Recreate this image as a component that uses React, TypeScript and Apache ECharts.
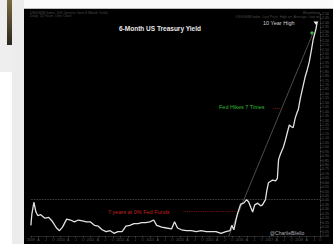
import React, { useEffect, useRef } from "react";
import * as echarts from "echarts";

// decimal years
const dates = [
  2009.0, 2009.03, 2009.1, 2009.17, 2009.23, 2009.33, 2009.47, 2009.6, 2009.73, 2009.86,
  2009.96, 2010.06, 2010.2, 2010.33, 2010.46, 2010.59, 2010.73, 2010.86, 2010.99, 2011.13,
  2011.26, 2011.39, 2011.52, 2011.66, 2011.79, 2011.92, 2012.06, 2012.19, 2012.32, 2012.46,
  2012.59, 2012.72, 2012.85, 2012.99, 2013.12, 2013.22, 2013.39, 2013.55, 2013.72, 2013.82,
  2013.92, 2014.05, 2014.22, 2014.38, 2014.55, 2014.71, 2014.88, 2015.05, 2015.21, 2015.38,
  2015.54, 2015.68, 2015.74, 2015.81, 2015.88, 2015.94, 2016.04, 2016.14, 2016.24, 2016.31,
  2016.38, 2016.44, 2016.51, 2016.61, 2016.71, 2016.77, 2016.87, 2016.91, 2016.97, 2017.11,
  2017.21, 2017.27, 2017.31, 2017.37, 2017.47, 2017.54, 2017.6, 2017.67, 2017.74, 2017.8,
  2017.87, 2017.94, 2017.97, 2018.04, 2018.1, 2018.14, 2018.2, 2018.27, 2018.34, 2018.41,
  2018.47, 2018.54, 2018.57, 2018.6,
];
// 6-month yield, %
const yields = [
  0.12, 0.24, 0.38, 0.27, 0.23, 0.24, 0.2, 0.21, 0.16, 0.09,
  0.06, 0.1, 0.19, 0.18, 0.16, 0.18, 0.17, 0.16, 0.16, 0.12,
  0.11, 0.07, 0.05, 0.06, 0.03, 0.05, 0.05, 0.11, 0.12, 0.14,
  0.14, 0.15, 0.15, 0.16, 0.18, 0.12, 0.1, 0.09, 0.08, 0.16,
  0.09, 0.07, 0.06, 0.06, 0.05, 0.06, 0.05, 0.05, 0.05, 0.03,
  0.05, 0.06, 0.12, 0.07, 0.18, 0.26, 0.36, 0.37, 0.41, 0.38,
  0.32, 0.27, 0.35, 0.37, 0.34, 0.35, 0.41, 0.5, 0.6, 0.63,
  0.62, 0.65, 0.86, 0.92, 1.0, 1.08, 1.16, 1.25, 1.23, 1.22,
  1.33, 1.4, 1.42, 1.55, 1.64, 1.7, 1.79, 1.87, 1.96, 2.09,
  2.21, 2.3, 2.34, 2.4,
];
const trendDates = [2015.64, 2018.47];
const trendValues = [0, 2.29];
const priorHigh = 0.405;
const zeroRateLevel = 0.28;
const zeroRateSpan = [2014.12, 2015.88];
const hikeLevel = 1.44;
const hikeSpan = [2017.14, 2017.44];
const quarterLetters = ["J", "A", "J", "O"];

const titleText = "6-Month US Treasury Yield";
const highText = "10 Year High";
const hikesText = "Fed Hikes 7 Times";
const zeroText = "7 years at 0% Fed Funds";
const creditText = "@CharlieBilello";
const headerLeft1 = "USGG6M Index  (US Generic Govt 6 Month Yield)";
const headerLeft2 = "Daily  10 Years  Line Chart";
const headerRight1 = "USGG6M Index  Last Price  High on  Average  Low on";
const headerRight2 = "Bloomberg";

export default function App() {
  const ref = useRef<HTMLDivElement>(null);
  useEffect(() => {
    if (!ref.current) return;
    const chart = echarts.init(ref.current, undefined, { renderer: "svg" });
    const font = "Liberation Sans, Arial, sans-serif";
    chart.setOption({
      animation: false,
      backgroundColor: "#000",
      grid: { left: 4, right: 13, top: 5, bottom: 8 },
      xAxis: {
        type: "value",
        min: 2009,
        max: 2018.7,
        interval: 0.25,
        axisLine: { show: true, lineStyle: { color: "#3a3a3a", width: 0.6 } },
        axisTick: { show: true, length: 1.5, lineStyle: { color: "#444" } },
        splitLine: { show: false },
        axisLabel: {
          color: "#555",
          fontSize: 3.5,
          margin: 2,
          fontFamily: font,
          formatter: (v: number) => {
            const y = Math.floor(v + 1e-6);
            const f = v - y;
            if (f < 0.01) return String(y);
            return quarterLetters[Math.round(f * 4) % 4];
          },
        },
      },
      yAxis: {
        type: "value",
        position: "right",
        min: 0,
        max: 2.5,
        interval: 0.05,
        axisLine: { show: true, lineStyle: { color: "#3a3a3a", width: 0.6 } },
        axisTick: { show: true, length: 1.5, lineStyle: { color: "#444" } },
        splitLine: { show: false },
        axisLabel: {
          color: "#5c5c5c",
          fontSize: 3.6,
          margin: 2,
          fontFamily: font,
          formatter: (v: number) => v.toFixed(2),
        },
      },
      series: [
        {
          type: "line",
          data: trendDates.map((d, i) => [d, trendValues[i]]),
          showSymbol: false,
          lineStyle: { color: "#5e5e5e", width: 0.8 },
          z: 2,
        },
        {
          type: "line",
          data: dates.map((d, i) => [d, yields[i]]),
          showSymbol: false,
          lineStyle: { color: "#e2e2e2", width: 1.3 },
          z: 3,
          markLine: {
            silent: true,
            symbol: "none",
            label: { show: false },
            data: [
              { yAxis: priorHigh, lineStyle: { color: "#5e5e5e", type: "dotted", width: 0.8 } },
              [
                { coord: [zeroRateSpan[0], zeroRateLevel], lineStyle: { color: "#8a1616", type: "dotted", width: 0.9 } },
                { coord: [zeroRateSpan[1], zeroRateLevel] },
              ],
              [
                { coord: [hikeSpan[0], hikeLevel], lineStyle: { color: "#8a1616", type: "dotted", width: 0.9 } },
                { coord: [hikeSpan[1], hikeLevel] },
              ],
            ],
          },
        },
      ],
      graphic: [
        { type: "text", left: 6, top: 1.5, style: { text: headerLeft1, fill: "#4a4a4a", fontSize: 3.5, fontFamily: font } },
        { type: "text", left: 6, top: 5, style: { text: headerLeft2, fill: "#4a4a4a", fontSize: 3.5, fontFamily: font } },
        { type: "text", right: 13, top: 5.5, style: { text: headerRight1, fill: "#4a4a4a", fontSize: 3.5, fontFamily: font } },
        { type: "text", right: 13, top: 2, style: { text: headerRight2, fill: "#4a4a4a", fontSize: 3.5, fontFamily: font } },
        {
          type: "text",
          x: 136,
          y: 19,
          style: { text: titleText, fill: "#e8e8e8", fontSize: 6.5, fontWeight: "bold", fontFamily: font, align: "center", verticalAlign: "middle" },
        },
        {
          type: "text",
          x: 239,
          y: 14,
          style: { text: highText, fill: "#cfcfcf", fontSize: 5.5, fontFamily: font, verticalAlign: "middle" },
        },
        { type: "polygon", shape: { points: [[289.5, 12.5], [294.5, 12.5], [292, 16]] }, style: { fill: "#eee" } },
        { type: "circle", shape: { cx: 288, cy: 24, r: 1.6 }, style: { fill: "#3ec43e" } },
        {
          type: "text",
          x: 195,
          y: 98,
          style: { text: hikesText, fill: "#35b835", fontSize: 5.5, fontFamily: font, verticalAlign: "middle" },
        },
        {
          type: "text",
          x: 84,
          y: 203,
          style: { text: zeroText, fill: "#c02222", fontSize: 5.5, fontFamily: font, verticalAlign: "middle" },
        },
        {
          type: "text",
          x: 246,
          y: 224,
          style: { text: creditText, fill: "#b0b0b0", fontSize: 5, fontFamily: font, verticalAlign: "middle" },
        },
      ],
    });
    return () => chart.dispose();
  }, []);

  return (
    <div style={{ position: "fixed", left: 0, top: 0, width: 333, height: 244, background: "#fff", overflow: "hidden" }}>
      <div style={{ position: "absolute", left: 0, top: 0, width: 12, height: 72, background: "#eeeeee" }} />
      <div style={{ position: "absolute", left: 7, top: 0, width: 5, height: 45, background: "linear-gradient(#7a6a40, #2a2620)" }} />
      <div style={{ position: "absolute", left: 12, top: 0, width: 12, height: 244, background: "#ececec" }} />
      <div style={{ position: "absolute", left: 24, top: 0, width: 309, height: 8, background: "#fafafa", borderBottom: "1px solid #bbb" }} />
      <div ref={ref} style={{ position: "absolute", left: 24, top: 9, width: 309, height: 235 }} />
    </div>
  );
}
